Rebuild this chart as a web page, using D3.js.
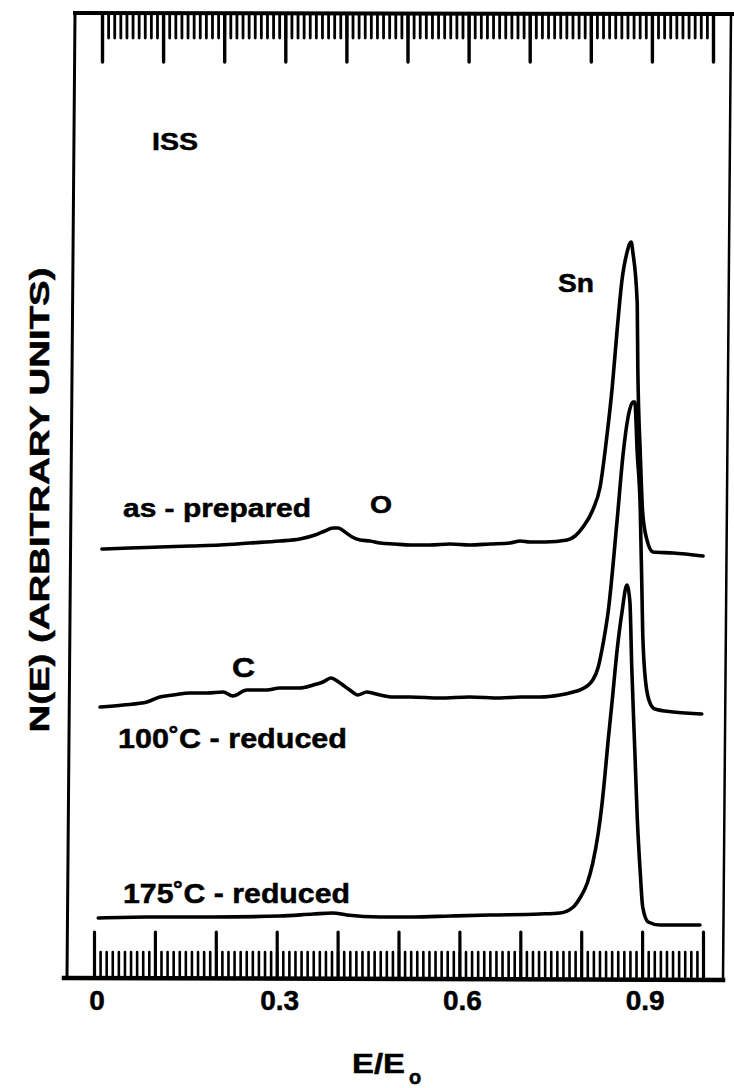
<!DOCTYPE html>
<html><head><meta charset="utf-8">
<script src="https://cdn.jsdelivr.net/npm/d3@7"></script>
<style>
html,body{margin:0;padding:0;background:#fff;}
svg{display:block;}
text{font-family:"Liberation Sans", Arial, Helvetica, sans-serif; font-weight:bold; fill:#000; stroke:#000; stroke-width:0.5px;}
</style></head><body>
<svg id="chart" width="734" height="1088"></svg>
<script>
// ---- data ----
const majorTicks = [0, 0.1, 0.2, 0.3, 0.4, 0.5, 0.6, 0.7, 0.8, 0.9, 1.0];
const labelValues = [0, 0.3, 0.6, 0.9];
const tickLabels = ["0", "0.3", "0.6", "0.9"];

// [E/E0, N(E) arbitrary units]
const asPrepared = [
  [0.013,42.9],[0.059,43.0],[0.108,43.1],[0.158,43.2],[0.207,43.3],[0.256,43.5],[0.305,43.7],
  [0.338,43.9],[0.363,44.3],[0.379,44.7],[0.392,45.0],[0.401,45.0],[0.412,44.6],[0.424,44.1],
  [0.437,43.8],[0.453,43.7],[0.470,43.5],[0.494,43.4],[0.519,43.3],[0.552,43.3],[0.585,43.4],
  [0.617,43.3],[0.650,43.4],[0.683,43.5],[0.700,43.7],[0.716,43.6],[0.741,43.6],[0.777,43.8],
  [0.790,44.2],[0.803,45.1],[0.819,46.8],[0.831,49.1],[0.842,54.1],[0.851,59.1],[0.859,64.8],
  [0.867,69.8],[0.875,72.5],[0.882,73.6],[0.885,72.5],[0.892,67.5],[0.893,60.8],[0.897,52.5],
  [0.901,46.5],[0.908,43.8],[0.918,42.6],[0.951,42.5],[1.000,42.2]
];
const reduced100 = [
  [0.010,27.1],[0.048,27.3],[0.087,27.6],[0.108,28.1],[0.130,28.3],[0.158,28.5],[0.186,28.5],
  [0.212,28.6],[0.228,28.2],[0.251,28.8],[0.284,28.8],[0.305,29.0],[0.338,29.0],[0.360,29.3],
  [0.376,29.6],[0.389,30.0],[0.404,29.5],[0.420,28.8],[0.433,28.3],[0.448,28.6],[0.470,28.3],
  [0.491,28.1],[0.519,28.1],[0.568,28.0],[0.617,28.1],[0.667,28.0],[0.700,28.1],[0.732,28.1],
  [0.765,28.3],[0.787,28.6],[0.798,28.8],[0.819,29.8],[0.828,31.1],[0.834,32.8],[0.839,34.5],
  [0.844,36.5],[0.859,45.8],[0.869,52.5],[0.877,56.1],[0.885,57.6],[0.888,57.6],[0.892,52.5],
  [0.897,46.8],[0.900,37.8],[0.901,34.5],[0.906,29.5],[0.913,27.5],[0.921,26.9],[0.951,26.6],
  [0.998,26.4]
];
const reduced175 = [
  [0.007,6.0],[0.087,6.1],[0.195,6.1],[0.305,6.2],[0.360,6.4],[0.392,6.5],[0.415,6.3],
  [0.470,6.1],[0.524,6.1],[0.585,6.2],[0.650,6.3],[0.732,6.4],[0.765,6.5],[0.787,7.1],
  [0.798,8.0],[0.810,9.5],[0.819,11.5],[0.828,14.5],[0.834,17.3],[0.839,20.3],[0.844,23.6],
  [0.851,27.8],[0.859,32.8],[0.867,36.6],[0.875,39.3],[0.880,37.6],[0.883,31.1],[0.888,22.8],
  [0.892,16.1],[0.897,10.5],[0.901,7.1],[0.910,5.6],[0.929,5.3],[0.995,5.3]
];

// ---- chart ----
const svg = d3.select("#chart");
const xBottom = d3.scaleLinear().domain([0, 1]).range([94, 703]);
const xTop = d3.scaleLinear().domain([0, 1]).range([102, 713]);
const y = d3.scaleLinear().domain([0, 96.5]).range([978, 13]);

// frame (slightly skewed like the scanned original)
const frame = svg.append("g").attr("stroke", "#000").attr("fill", "none").attr("stroke-linecap", "square");
frame.append("line").attr("x1", 75).attr("y1", 13).attr("x2", 734).attr("y2", 14).attr("stroke-width", 4);
frame.append("line").attr("x1", 731).attr("y1", 14).attr("x2", 723).attr("y2", 979).attr("stroke-width", 2.5);
frame.append("line").attr("x1", 64).attr("y1", 978).attr("x2", 723).attr("y2", 980).attr("stroke-width", 4.5);
frame.append("line").attr("x1", 75).attr("y1", 13).attr("x2", 67).attr("y2", 978).attr("stroke-width", 3);

function styleTicks(g, w) {
  g.select(".domain").remove();
  g.selectAll(".tick line").attr("stroke", "#000").attr("stroke-width", w).attr("stroke-linecap", "round");
}
// bottom axis ticks (pointing inward)
svg.append("g").attr("transform", "translate(0,977)")
  .call(d3.axisTop(xBottom).ticks(100).tickSize(25).tickFormat(""))
  .call(g => styleTicks(g, 2.6));
svg.append("g").attr("transform", "translate(0,977)")
  .call(d3.axisTop(xBottom).tickValues(majorTicks).tickSize(45).tickFormat(""))
  .call(g => styleTicks(g, 3.2));
// top axis ticks
svg.append("g").attr("transform", "translate(0,14)")
  .call(d3.axisBottom(xTop).ticks(100).tickSize(24).tickFormat(""))
  .call(g => styleTicks(g, 2.8));
svg.append("g").attr("transform", "translate(0,14)")
  .call(d3.axisBottom(xTop).tickValues(majorTicks).tickSize(48).tickFormat(""))
  .call(g => styleTicks(g, 3.4));
// tick labels
svg.append("g").attr("transform", "translate(0,978)")
  .call(d3.axisBottom(xBottom).tickValues(labelValues).tickFormat((d, i) => tickLabels[i]).tickSize(0).tickPadding(12))
  .call(g => {
    g.select(".domain").remove();
    g.attr("font-size", null).attr("font-family", null);
    g.selectAll(".tick").attr("transform", d => `translate(${xBottom(d) + 3},0)`);
    g.selectAll("text").style("font-size", "28px").attr("fill", "#000");
  });

// curves
const line = d3.line().x(d => xBottom(d[0])).y(d => y(d[1])).curve(d3.curveMonotoneX);
[asPrepared, reduced100, reduced175].forEach(s => {
  svg.append("path").datum(s).attr("d", line)
    .attr("fill", "none").attr("stroke", "#000").attr("stroke-width", 3.6)
    .attr("stroke-linejoin", "round").attr("stroke-linecap", "round");
});

// labels
function label(t, x, yy, size, len) {
  const el = svg.append("text").attr("x", x).attr("y", yy).style("font-size", size + "px").text(t);
  if (len) el.attr("textLength", len).attr("lengthAdjust", "spacingAndGlyphs");
  return el;
}
label("ISS", 152, 150, 24, 46);
label("Sn", 558, 292, 25, 36);
label("as - prepared", 123, 517, 26, 188);
label("O", 370, 513, 24, 22);
label("C", 232, 677, 27, 23);
label("100˚C - reduced", 118, 748, 28, 229);
label("175˚C - reduced", 123, 903, 28, 227);

// axis titles
svg.append("text")
  .attr("transform", "translate(49,500) rotate(-90)")
  .attr("text-anchor", "middle")
  .style("font-size", "27px")
  .attr("textLength", 465).attr("lengthAdjust", "spacingAndGlyphs")
  .text("N(E) (ARBITRARY UNITS)");

const xt = svg.append("text").attr("x", 352).attr("y", 1073).style("font-size", "28px");
xt.append("tspan").attr("textLength", 53).attr("lengthAdjust", "spacingAndGlyphs").text("E/E");
xt.append("tspan").attr("dx", 4).attr("dy", 11).style("font-size", "20px").text("o");
</script>
</body></html>
